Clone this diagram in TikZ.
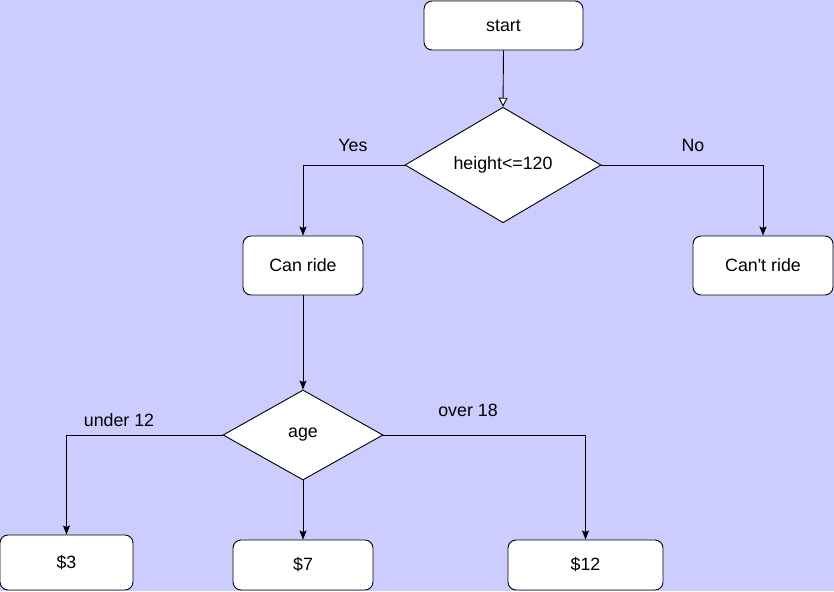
\documentclass[tikz,border=0pt]{standalone}
\usepackage{fontspec}
\setmainfont{Liberation Sans}[Ligatures=TeXOff]
\usetikzlibrary{shapes.geometric,arrows.meta}
\definecolor{bg}{RGB}{204,204,255}
\begin{document}
\begin{tikzpicture}[x=1pt,y=-1pt,
  every node/.style={font=\fontsize{17.8}{21}\selectfont},
  box/.style={draw,fill=white,rounded corners=8pt,line width=0.9pt,inner sep=0pt},
  dec/.style={draw,fill=white,diamond,line width=0.9pt,inner sep=0pt},
  lbl/.style={inner sep=0pt},
  conn/.style={line width=0.9pt,-{Stealth[length=9pt,width=7pt,inset=1.5pt]}},
  openconn/.style={line width=0.9pt,-{Triangle[open,length=9pt,width=9pt,fill=white]}}]
\fill[bg] (0,0) rectangle (834,591);
\useasboundingbox (0,0) rectangle (834,591);
\node[box,minimum width=159pt,minimum height=49pt] (start) at (503.5,25.5) {start};
\node[dec,minimum width=196pt,minimum height=110pt] (h) at (503,165) {height<=120};
\node[box,minimum width=120pt,minimum height=59pt] (can) at (303,265.5) {Can ride};
\node[box,minimum width=140pt,minimum height=59pt] (cant) at (763,265.5) {Can't ride};
\node[dec,minimum width=160pt,minimum height=90pt] (age) at (303,435) {age};
\node[box,minimum width=133pt,minimum height=55pt] (p3) at (66.5,562.5) {\$3};
\node[box,minimum width=140pt,minimum height=50pt] (p7) at (303,565) {\$7};
\node[box,minimum width=155pt,minimum height=50pt] (p12) at (585.5,565) {\$12};
\draw[openconn] (start.south) -- (h.north);
\draw[conn] (h.west) -| (can.north);
\draw[conn] (h.east) -| (cant.north);
\draw[conn] (can.south) -- (age.north);
\draw[conn] (age.west) -| (p3.north);
\draw[conn] (age.south) -- (p7.north);
\draw[conn] (age.east) -| (p12.north);
\node[lbl] (yes) at (353,145) {Yes};
\node[lbl] (no) at (693,145) {No};
\node[lbl] (u12) at (119,420) {under 12};
\node[lbl] (o18) at (468,410) {over 18};
\end{tikzpicture}
\end{document}
